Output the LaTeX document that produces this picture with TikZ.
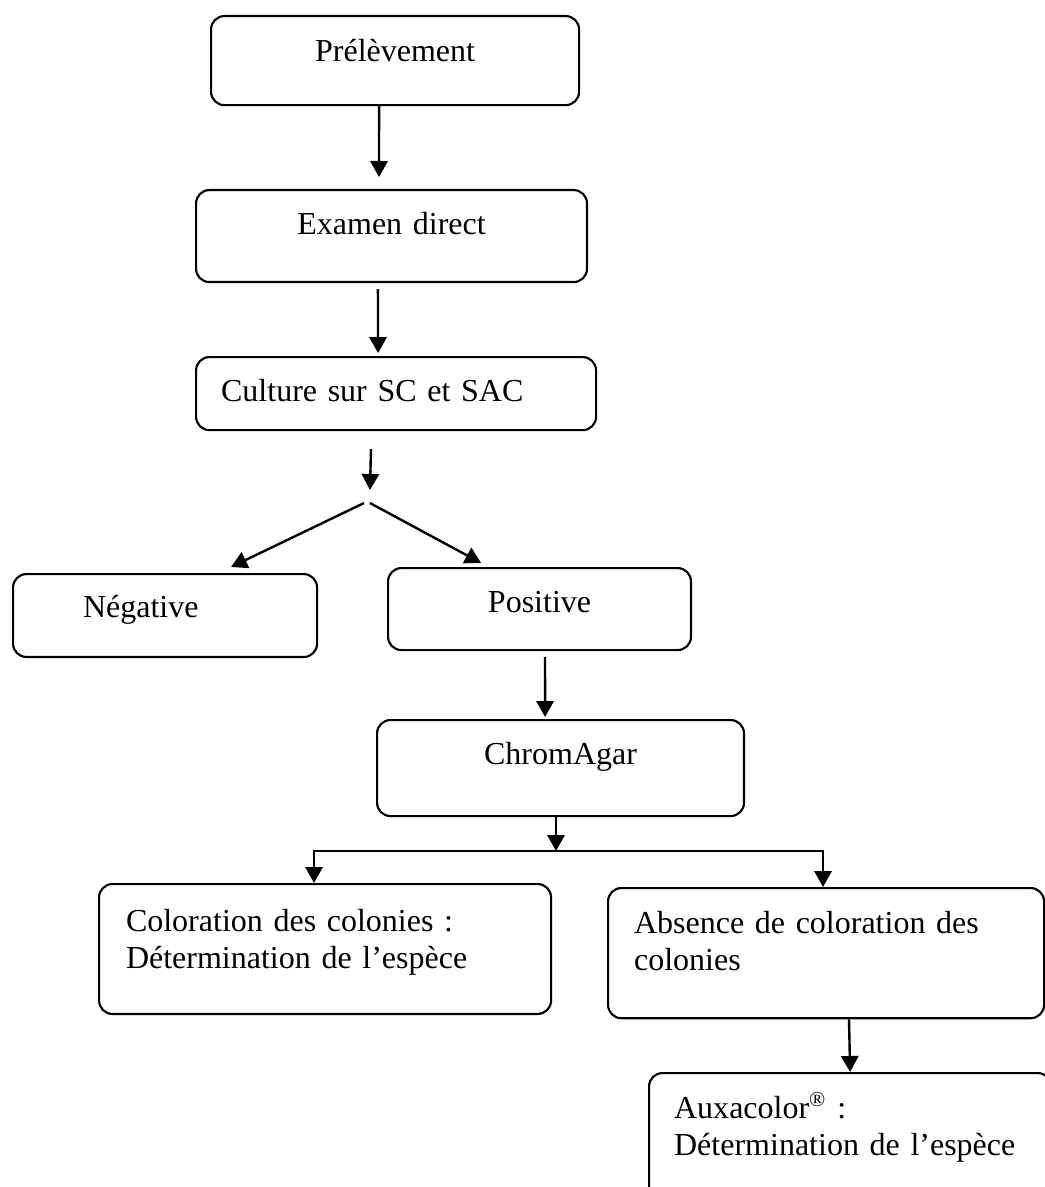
\documentclass[tikz,border=0pt]{standalone}
\usepackage{fontspec}
\setmainfont{Liberation Serif}
\usetikzlibrary{arrows.meta}

\begin{document}
\begin{tikzpicture}[x=0.375pt,y=-0.375pt,
  >={Triangle[length=6pt,width=6.5pt]},
  etape/.style={draw, line width=0.8pt, rounded corners=5pt, anchor=north west,
    inner ysep=0pt, font=\fontsize{12}{13.9}\selectfont},
  centre/.style={inner xsep=0pt, align=center},
  gauche/.style={align=left},
  trait/.style={line width=0.9pt},
  fleche/.style={line width=0.9pt, ->}]
\useasboundingbox (0,0) rectangle (1044,1187);
% etapes
\node[etape, centre, text width=138pt, text height=16.9pt, text depth=16.5pt] (prel) at (210,15) {Prélèvement};
\node[etape, centre, text width=146.6pt, text height=16.5pt, text depth=18pt] (exam) at (195,189) {Examen direct};
\node[etape, gauche, inner xsep=9.4pt, text width=131.2pt, text height=16.5pt, text depth=10.9pt] (cult) at (195,356) {Culture sur SC et SAC};
\node[etape, gauche, inner xsep=26.25pt, text width=61.5pt, text height=16.1pt, text depth=15pt] (neg) at (12,573) {Négative};
\node[etape, centre, text width=113.6pt, text height=16.5pt, text depth=14.25pt] (pos) at (387,567) {Positive};
\node[etape, centre, text width=137.6pt, text height=16.5pt, text depth=19.5pt] (chrom) at (376,719) {ChromAgar};
\node[etape, gauche, inner xsep=10.1pt, text width=149.3pt, text height=17.6pt, text depth=31.1pt] (colo) at (98,883) {Coloration des colonies :\\Détermination de l’espèce};
\node[etape, gauche, inner xsep=9.75pt, text width=144pt, text height=16.9pt, text depth=31.9pt] (abs) at (607,887) {Absence de coloration des\\colonies};
\node[etape, gauche, inner xsep=9.4pt, text width=132pt, text height=16.9pt, text depth=31.1pt] (aux) at (648,1072) {Auxacolor\textsuperscript{®} :\\Détermination de l’espèce};
% points de branchement
\coordinate (split) at (367,503);
\coordinate (bar-g) at (314,851);
\coordinate (bar-m) at (556,851);
\coordinate (bar-d) at (823,851);
% fleches
\draw[fleche] ([xshift=-6pt]prel.south) -- ([xshift=-4.7pt,yshift=4.5pt]exam.north);
\draw[fleche] ([xshift=-5.1pt,yshift=-2.25pt]exam.south) -- ([xshift=-6.75pt,yshift=1.1pt]cult.north);
\draw[fleche] ([xshift=-9.4pt,yshift=-6.75pt]cult.south) -- ([xshift=1.1pt,yshift=4.9pt]split);
\draw[fleche] ([xshift=-1.1pt]split) -- ([xshift=24.75pt,yshift=2.25pt]neg.north);
\draw[fleche] ([xshift=1.1pt]split) -- ([xshift=-21.9pt,yshift=1.5pt]pos.north);
\draw[fleche] ([xshift=2.06pt,yshift=-2.25pt]pos.south) -- ([xshift=-5.8pt,yshift=0.75pt]chrom.north);
\draw[fleche] (chrom.south -| bar-m) -- (bar-m);
\draw[trait, <->] (colo.north -| bar-g) -- (bar-g) -- (bar-d) -- (abs.north -| bar-d);
\draw[fleche] ([xshift=8.6pt]abs.south) -- (aux.north);
\end{tikzpicture}
\end{document}
